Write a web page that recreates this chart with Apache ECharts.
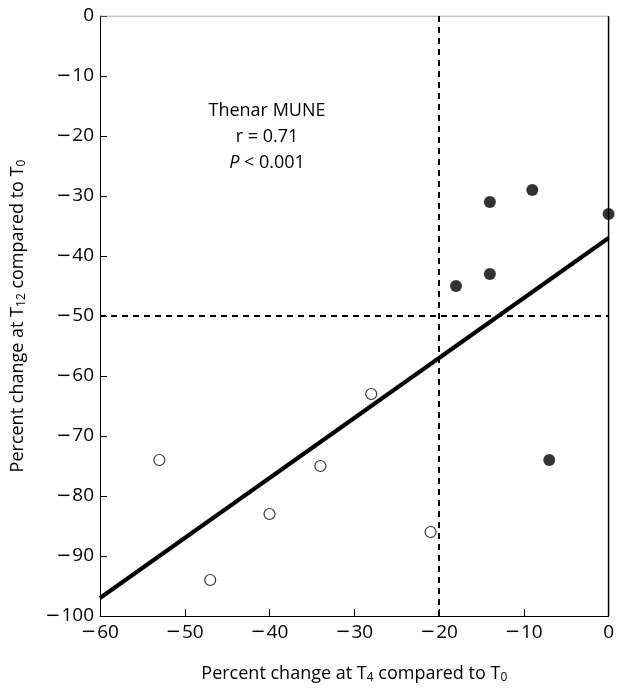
<!DOCTYPE html>
<html><head><meta charset="utf-8">
<script src="https://cdn.jsdelivr.net/npm/echarts@6/dist/echarts.min.js"></script>
<style>html,body{margin:0;padding:0;background:#fff}#c{width:617px;height:689px}</style>
</head><body><div id="c"></div>
<script>
const filledX = [-14, -9, 0, -14, -18, -7];
const filledY = [-31, -29, -33, -43, -45, -74];
const openX = [-53, -47, -40, -34, -28, -21];
const openY = [-74, -94, -83, -75, -63, -86];
const fitX = [-60, 0];
const fitY = [-97, -37];
const refX = -20;
const refY = -50;
const annotation = ['Thenar MUNE', 'r = 0.71', '{i|P} < 0.001'];

const font = 'Open Sans';
const tickFmt = v => v < 0 ? '{m|\u2212}{n|' + Math.abs(v) + '}' : '{n|' + v + '}';
const tickRich = {
  m: {fontFamily: 'DejaVu Sans', fontSize: 18, color: '#000', padding: [0, 1, 0, 0]},
  n: {fontFamily: font, fontSize: 19, color: '#000'}
};
const zip = (a, b) => a.map((v, i) => [v, b[i]]);
const sub = {s: {fontSize: 12, fontFamily: font, color: '#000', verticalAlign: 'bottom', padding: [9, 0, 0, 0]}};

const chart = echarts.init(document.getElementById('c'), null, {renderer: 'canvas'});
chart.setOption({
  animation: false,
  grid: {left: 100, right: 4, top: 16, bottom: 71, show: false},
  xAxis: {
    type: 'value', min: -60, max: 0, interval: 10,
    axisLine: {onZero: false, lineStyle: {color: '#000', width: 1}},
    axisTick: {inside: true, length: 7, lineStyle: {color: '#000'}},
    splitLine: {show: false},
    axisLabel: {formatter: tickFmt, rich: tickRich, color: '#000', fontSize: 19, fontFamily: font, margin: 7},
    name: 'Percent change at T{s|4} compared to T{s|0}',
    nameLocation: 'middle', nameGap: 47,
    nameTextStyle: {color: '#000', fontSize: 18, fontFamily: font, rich: sub}
  },
  yAxis: {
    type: 'value', min: -100, max: 0, interval: 10,
    axisLine: {onZero: false, lineStyle: {color: '#000', width: 1}},
    axisTick: {inside: true, length: 7, lineStyle: {color: '#000'}},
    splitLine: {show: false},
    axisLabel: {formatter: tickFmt, rich: tickRich, color: '#000', fontSize: 19, fontFamily: font, margin: 6},
    name: 'Percent change at T{s|12} compared to T{s|0}',
    nameLocation: 'middle', nameGap: 72, nameRotate: 90,
    nameTextStyle: {color: '#000', fontSize: 18, fontFamily: font, rich: sub}
  },
  graphic: annotation.map((t, i) => ({
    type: 'text', x: 267, y: 111 + i * 26,
    style: {
      text: t, fill: '#000', align: 'center', verticalAlign: 'middle',
      font: '18px "Open Sans"',
      rich: {i: {fontStyle: 'italic', fontSize: 18, fontFamily: font, fill: '#000'}}
    }
  })),
  series: [
    {
      type: 'line', data: zip(fitX, fitY), symbol: 'none', silent: true,
      lineStyle: {color: '#000', width: 4}, z: 3,
      markLine: {
        silent: true, symbol: 'none', label: {show: false},
        lineStyle: {color: '#000', type: [6, 5], width: 2},
        data: [{xAxis: refX}, {yAxis: refY}]
      }
    },
    {
      type: 'line', data: [[0, -100], [0, 0]], symbol: 'none', silent: true,
      lineStyle: {color: '#000', width: 1.5}, z: 2
    },
    {
      type: 'line', data: [[-60, 0], [0, 0]], symbol: 'none', silent: true,
      lineStyle: {color: '#888', width: 1}, z: 2
    },
    {
      type: 'scatter', data: zip(openX, openY), symbol: 'circle', symbolSize: 11,
      itemStyle: {color: '#fff', borderColor: '#000', borderWidth: 1.2}, z: 5
    },
    {
      type: 'scatter', data: zip(filledX, filledY), symbol: 'circle', symbolSize: 12,
      itemStyle: {color: '#000'}, z: 5
    }
  ]
});
</script></body></html>
